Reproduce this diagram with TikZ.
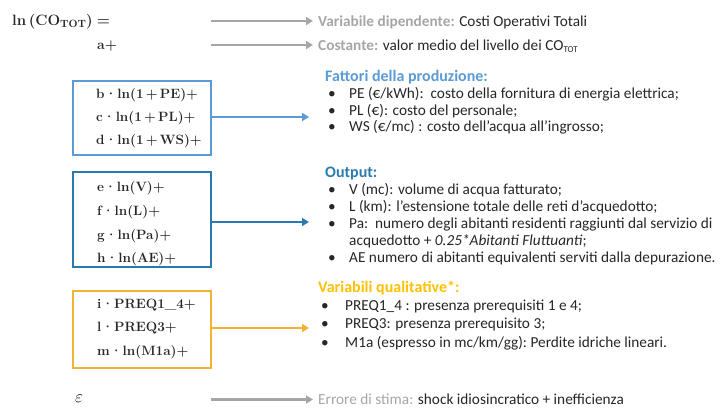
\documentclass[tikz,border=0pt]{standalone}
\usepackage{fontspec}
\setmainfont{Carlito}
\newfontfamily\eqfont{Latin Modern Roman}
\usetikzlibrary{arrows.meta}
\definecolor{lblue}{HTML}{5B9BD5}
\definecolor{dblue}{HTML}{2A7AB0}
\definecolor{amber}{HTML}{F2B233}
\definecolor{ayel}{HTML}{FFC000}
\definecolor{gtxt}{HTML}{A6A6A6}
\definecolor{garr}{HTML}{A6A6A6}
\definecolor{btxt}{HTML}{262626}
\newcommand{\sdot}{\kern0.5pt·\kern0.5pt}
\newcommand{\tplus}{\,+\,}
\tikzset{
  eq/.style={anchor=base west, inner sep=0pt, font=\fontsize{13.5}{15}\selectfont\eqfont\bfseries, text=btxt},
  txt/.style={anchor=base west, inner sep=0pt, font=\fontsize{15.3}{17}\selectfont, text=btxt},
  bul/.style={anchor=base west, inner sep=0pt, font=\fontsize{15.3}{17}\selectfont, text=btxt},
  head/.style={anchor=base west, inner sep=0pt, font=\fontsize{16}{18}\selectfont\bfseries},
  termbox/.style={draw, line width=1.8pt, anchor=north west, minimum width=138pt, inner sep=0pt},
  garrow/.style={draw=garr, line width=2.2pt, shorten >=5pt, -{Triangle[length=7pt,width=8pt]}},
  carrow/.style={line width=2.4pt, -{Triangle[length=7pt,width=8pt]}},
}
\begin{document}
\begin{tikzpicture}[x=1pt,y=-1pt]
\useasboundingbox (0,0) rectangle (722,408);

% left-hand side and constant
\node[eq, font=\fontsize{15}{17}\selectfont\eqfont\bfseries] (lhs) at (12,25) {ln\,(CO\raisebox{-0.4ex}{\fontsize{10.5}{11}\selectfont TOT})\;=};
\node[eq, font=\fontsize{14}{16}\selectfont\eqfont\bfseries] (cst) at (97,49) {a+};

% gray labels with arrows
\node[txt] (dep) at (318,26) {\textcolor{gtxt}{\textbf{Variabile dipendente:}} Costi Operativi Totali};
\node[txt] (con) at (318,50) {\textcolor{gtxt}{\textbf{Costante:}} valor medio del livello dei CO\raisebox{-0.35ex}{\fontsize{9}{10}\selectfont TOT}};
\coordinate (g1) at (211,21);
\coordinate (g2) at (211,45);
\draw[garrow] (g1) -- (g1 -| dep.west);
\draw[garrow] (g2) -- (g2 -| con.west);

% block 1: production factors
\node[termbox, draw=lblue, minimum height=74pt] (box1) at (72,80) {};
\node[eq] (b1) at (96,98) {b\sdot ln(1\tplus PE)+};
\node[eq] (b2) at (96,121) {c\sdot ln(1\tplus PL)+};
\node[eq] (b3) at (96,144) {d\sdot ln(1\tplus WS)+};
\node[head, text=lblue] (h1) at (325,81) {Fattori della produzione:};
\node[bul] (u11) at (328,98.5) {•};
\node[txt] (t11) at (349,98.5) {PE (€/kWh):\ \ costo della fornitura di energia elettrica;};
\node[bul] (u12) at (328,115) {•};
\node[txt] (t12) at (349,115) {PL (€): costo del personale;};
\node[bul] (u13) at (328,131.5) {•};
\node[txt] (t13) at (349,131.5) {WS (€/mc) : costo dell’acqua all’ingrosso;};
\coordinate (e1) at (309,117);
\draw[carrow, draw=lblue] (box1.east |- e1) -- (e1);

% block 2: output
\node[termbox, draw=dblue, minimum height=95pt] (box2) at (72,171) {};
\node[eq] (c1) at (97,191) {e\sdot ln(V)+};
\node[eq] (c2) at (97,215) {f\sdot ln(L)+};
\node[eq] (c3) at (97,239) {g\sdot ln(Pa)+};
\node[eq] (c4) at (97,262) {h\sdot ln(AE)+};
\node[head, text=dblue] (h2) at (325,177) {Output:};
\node[bul] (u21) at (328,194) {•};
\node[txt] (t21) at (349,194) {V (mc): volume di acqua fatturato;};
\node[bul] (u22) at (328,211) {•};
\node[txt] (t22) at (349,211) {L (km): l’estensione totale delle reti d’acquedotto;};
\node[bul] (u23) at (328,228) {•};
\node[txt] (t23) at (349,228) {Pa:\ \ numero degli abitanti residenti raggiunti dal servizio di};
\node[txt] (t23b) at (349,245) {acquedotto + \textit{0.25*Abitanti Fluttuanti};};
\node[bul] (u24) at (328,262) {•};
\node[txt] (t24) at (349,262) {AE numero di abitanti equivalenti serviti dalla depurazione.};
\coordinate (e2) at (309,222);
\draw[carrow, draw=dblue] (box2.east |- e2) -- (e2);

% block 3: qualitative variables
\node[termbox, draw=amber, minimum height=77pt] (box3) at (72,290) {};
\node[eq] (d1) at (97,308) {i\sdot PREQ1\_4+};
\node[eq] (d2) at (97,331) {l\sdot PREQ3+};
\node[eq] (d3) at (97,355) {m\sdot ln(M1a)+};
\node[head, text=ayel] (h3) at (318,292) {Variabili qualitative*:};
\node[bul] (u31) at (321,310) {•};
\node[txt] (t31) at (345,310) {PREQ1\_4 : presenza prerequisiti 1 e 4;};
\node[bul] (u32) at (321,328) {•};
\node[txt] (t32) at (345,328) {PREQ3: presenza prerequisito 3;};
\node[bul] (u33) at (321,347) {•};
\node[txt] (t33) at (345,347) {M1a (espresso in mc/km/gg):\ Perdite idriche lineari.};
\coordinate (e3) at (309,328);
\draw[carrow, draw=amber] (box3.east |- e3) -- (e3);

% error term
\node[anchor=base west, inner sep=0pt, font=\fontsize{16}{17}\selectfont, text=black] (eps) at (75,402) {$\varepsilon$};
\node[txt] (err) at (318,404) {\textcolor{gtxt}{Errore di stima:} shock idiosincratico + inefficienza};
\coordinate (g3) at (211,399.5);
\draw[garrow] (g3) -- (g3 -| err.west);
\end{tikzpicture}
\end{document}
